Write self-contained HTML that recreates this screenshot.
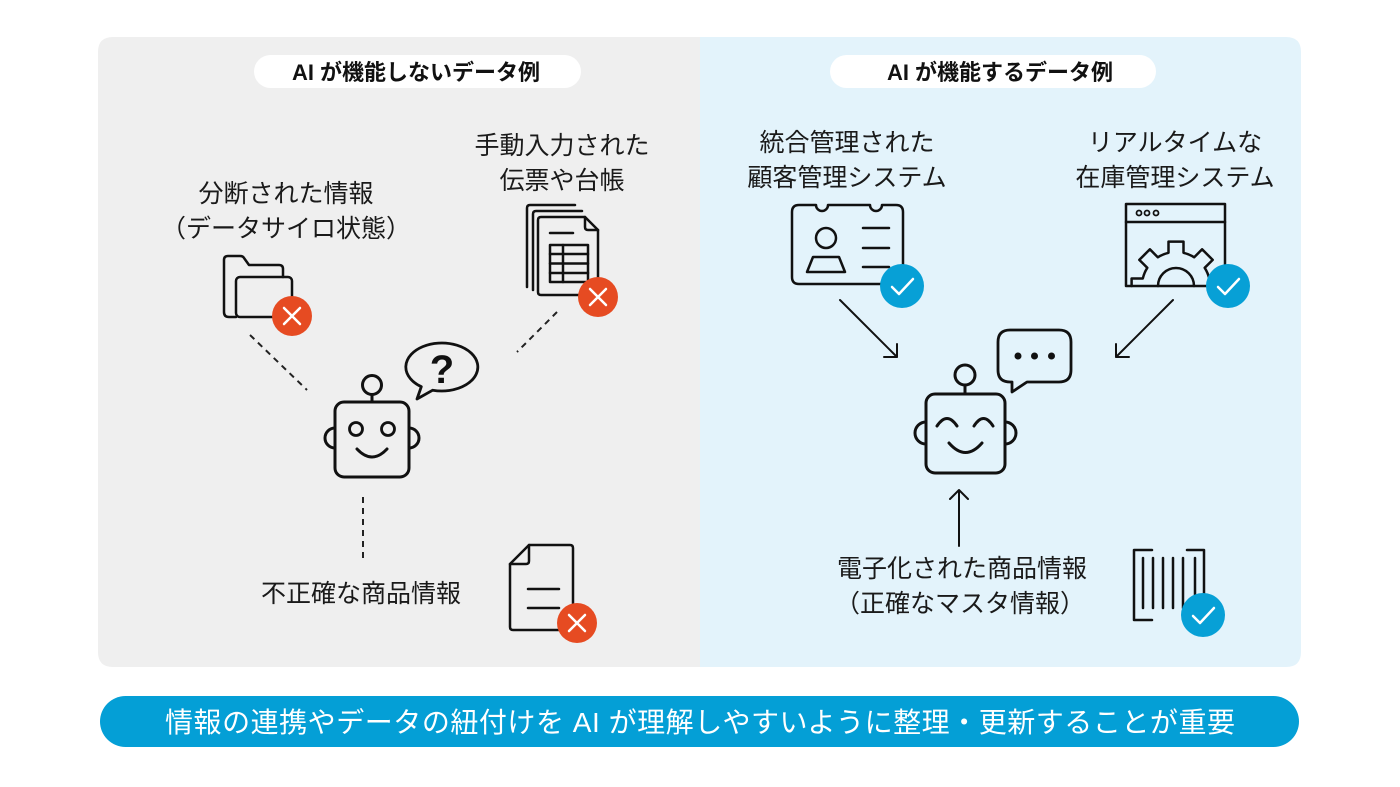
<!DOCTYPE html>
<html><head><meta charset="utf-8">
<style>
html,body{margin:0;padding:0;background:#fff;}
body{width:1400px;height:787px;overflow:hidden;}
svg{display:block;}
.t{font-family:"Liberation Sans","Noto Sans CJK JP",sans-serif;font-size:25px;fill:#1a1a1a;text-anchor:middle;}
.p{font-family:"Liberation Sans","Noto Sans CJK JP",sans-serif;font-size:22px;font-weight:700;fill:#111;text-anchor:middle;}
.ic{fill:none;stroke:#111;stroke-width:2.5;stroke-linecap:round;stroke-linejoin:round;}
.rb{fill:none;stroke:#111;stroke-width:3;stroke-linecap:round;stroke-linejoin:round;}
.ds{fill:none;stroke:#222;stroke-width:2;stroke-dasharray:6 5;}
.ar{fill:none;stroke:#111;stroke-width:2;stroke-linecap:round;stroke-linejoin:round;}
.w{fill:none;stroke:#fff;stroke-width:2.5;stroke-linecap:round;stroke-linejoin:round;}
</style></head>
<body>
<svg width="1400" height="787" viewBox="0 0 1400 787" xmlns="http://www.w3.org/2000/svg">
<!-- panels -->
<path d="M113 37 H700 V667 H113 Q98 667 98 652 V52 Q98 37 113 37 Z" fill="#efefef"/>
<path d="M700 37 H1286 Q1301 37 1301 52 V652 Q1301 667 1286 667 H700 Z" fill="#e3f3fb"/>

<!-- pills -->
<rect x="254" y="55" width="327" height="33" rx="16.5" fill="#fff"/>
<text class="p" x="416" y="80">AI が機能しないデータ例</text>
<rect x="830" y="55" width="326" height="33" rx="16.5" fill="#fff"/>
<text class="p" x="1000" y="80">AI が機能するデータ例</text>

<!-- LEFT labels -->
<text class="t" x="286" y="202">分断された情報</text>
<text class="t" x="286" y="237">（データサイロ状態）</text>
<text class="t" x="562" y="154">手動入力された</text>
<text class="t" x="562" y="189">伝票や台帳</text>
<text class="t" x="361" y="602">不正確な商品情報</text>

<!-- folder -->
<path class="ic" d="M283 277 V269 Q283 265 279 265 H249 L244 258 Q243 256 240 256 H228 Q224 256 224 260 V312 Q224 317 229 317 H236"/>
<rect class="ic" x="236" y="277" width="56" height="40" rx="4"/>
<circle cx="292" cy="316" r="20" fill="#e64b22"/>
<path class="w" d="M284 308 L300 324 M300 308 L284 324"/>

<!-- doc stack -->
<path class="ic" d="M527 287 V208 Q527 205 530 205 H575"/>
<path class="ic" d="M533 290 V214 Q533 211 536 211 H582"/>
<path class="ic" d="M541 217 H585 L598 230 V292 Q598 295 595 295 H541 Q538 295 538 292 V220 Q538 217 541 217 Z"/>
<path class="ic" d="M585 217 V227 Q585 230 588 230 H598"/>
<path class="ic" d="M550 233 H573"/>
<rect class="ic" x="550" y="245" width="38" height="37"/>
<path class="ic" d="M563 245 V282 M550 254 H588 M550 263.5 H588 M550 273 H588"/>
<circle cx="598" cy="297" r="20" fill="#e64b22"/>
<path class="w" d="M590 289 L606 305 M606 289 L590 305"/>

<!-- dashed connectors -->
<path class="ds" d="M250 335 L307 390"/>
<path class="ds" d="M557 312 L517 352"/>
<path class="ds" d="M363 497 V562"/>

<!-- left robot -->
<circle class="rb" cx="372" cy="385" r="9.5"/>
<path class="rb" d="M372 394.5 V402"/>
<rect class="rb" x="335" y="402" width="74" height="75" rx="9"/>
<path class="rb" d="M335 428 A10 10 0 0 0 335 448"/>
<path class="rb" d="M409 428 A10 10 0 0 1 409 448"/>
<circle class="rb" cx="356" cy="429" r="6.5" style="stroke-width:2.8"/>
<circle class="rb" cx="388" cy="429" r="6.5" style="stroke-width:2.8"/>
<path class="rb" d="M357 449 Q372 465 387 449"/>
<!-- ? bubble -->
<path class="rb" d="M432.7 390.2 A36 24 0 1 0 421.3 386.7 L417 399 Z" style="stroke-width:2.8"/>
<text x="442" y="383" font-family="Liberation Sans,sans-serif" font-size="40" font-weight="700" fill="#111" text-anchor="middle">?</text>

<!-- bottom doc -->
<path class="ic" d="M529 545 H570 Q573 545 573 548 V627 Q573 630 570 630 H513 Q510 630 510 627 V564 Z"/>
<path class="ic" d="M510 564 H526 Q529 564 529 561 V545"/>
<path class="ic" d="M528 589 H559 M528 608 H559"/>
<circle cx="577" cy="623" r="20" fill="#e64b22"/>
<path class="w" d="M569 615 L585 631 M585 615 L569 631"/>

<!-- RIGHT labels -->
<text class="t" x="847" y="151">統合管理された</text>
<text class="t" x="847" y="186">顧客管理システム</text>
<text class="t" x="1175" y="151">リアルタイムな</text>
<text class="t" x="1175" y="186">在庫管理システム</text>
<text class="t" x="962" y="577">電子化された商品情報</text>
<text class="t" x="960" y="612">（正確なマスタ情報）</text>

<!-- ID card -->
<path class="ic" d="M799 205 H816 A6 6 0 0 0 828 205 H870 A6 6 0 0 0 882 205 H896 Q903 205 903 212 V277 Q903 284 896 284 H799 Q792 284 792 277 V212 Q792 205 799 205 Z"/>
<circle class="ic" cx="826" cy="238" r="10"/>
<path class="ic" d="M813 257 H839 L845 272 H807 Z"/>
<path class="ic" d="M863 228 H889 M863 248 H889 M863 267 H889"/>
<circle cx="902" cy="286" r="22" fill="#07a0d6"/>
<path class="w" d="M892 287 L899 294 L913 279"/>

<!-- window gear -->
<rect class="ic" x="1126" y="204" width="99" height="82"/>
<path class="ic" d="M1126 222 H1225"/>
<circle class="ic" cx="1139" cy="213" r="2.5" style="stroke-width:1.8"/>
<circle class="ic" cx="1147" cy="213" r="2.5" style="stroke-width:1.8"/>
<circle class="ic" cx="1156" cy="213" r="2.5" style="stroke-width:1.8"/>
<path class="ic" d="M1220.4 286 V278.5 H1209.2 A34 34 0 0 0 1204.7 267.8 L1212.7 259.9 L1202.1 249.3 L1194.2 257.3 A34 34 0 0 0 1183.5 252.8 V241.6 H1168.5 V252.8 A34 34 0 0 0 1157.8 257.3 L1149.9 249.3 L1139.3 259.9 L1147.3 267.8 A34 34 0 0 0 1142.8 278.5 H1131.6 V286"/>
<path class="ic" d="M1158 286 A18 18 0 0 1 1194 286"/>
<circle cx="1228" cy="286" r="22" fill="#07a0d6"/>
<path class="w" d="M1218 287 L1225 294 L1239 279"/>

<!-- arrows -->
<path class="ar" d="M840 300 L897 357 M884 357 H897 V344"/>
<path class="ar" d="M1173 300 L1116 357 M1129 357 H1116 V344"/>
<path class="ar" d="M959 546 V490 M950 499 L959 490 L968 499"/>

<!-- right robot -->
<circle class="rb" cx="965" cy="375" r="10"/>
<path class="rb" d="M965 385 V394"/>
<rect class="rb" x="926" y="394" width="79" height="79" rx="9"/>
<path class="rb" d="M926 422 A11 11 0 0 0 926 444"/>
<path class="rb" d="M1005 422 A11 11 0 0 1 1005 444"/>
<path class="rb" d="M937 426 Q947 411 957 426 M974 426 Q983.5 411 993 426"/>
<path class="rb" d="M949 443 Q965.5 462 982 443"/>
<!-- chat bubble -->
<path class="rb" d="M1010 330 H1059 Q1071 330 1071 342 V370 Q1071 382 1059 382 H1027 L1012 392 V382 H1010 Q998 382 998 370 V342 Q998 330 1010 330 Z" style="stroke-width:2.8"/>
<circle cx="1018" cy="356" r="3.5" fill="#111"/>
<circle cx="1034.5" cy="356" r="3.5" fill="#111"/>
<circle cx="1051.5" cy="356" r="3.5" fill="#111"/>

<!-- barcode -->
<path class="ic" d="M1152 550 H1134 V620 H1152"/>
<path class="ic" d="M1187 550 H1204 V598"/>
<path class="ic" d="M1143 558 V608 M1153 558 V608 M1163 558 V608 M1173 558 V608 M1183 558 V608 M1195 558 V600"/>
<circle cx="1203" cy="615" r="22" fill="#07a0d6"/>
<path class="w" d="M1193 616 L1200 623 L1214 608"/>

<!-- banner -->
<rect x="100" y="696" width="1199" height="51" rx="25.5" fill="#049fd6"/>
<text x="700" y="732" font-family="Liberation Sans,Noto Sans CJK JP,sans-serif" font-size="28" fill="#fff" text-anchor="middle" textLength="1070" lengthAdjust="spacing">情報の連携やデータの紐付けを AI が理解しやすいように整理・更新することが重要</text>
</svg>
</body></html>
